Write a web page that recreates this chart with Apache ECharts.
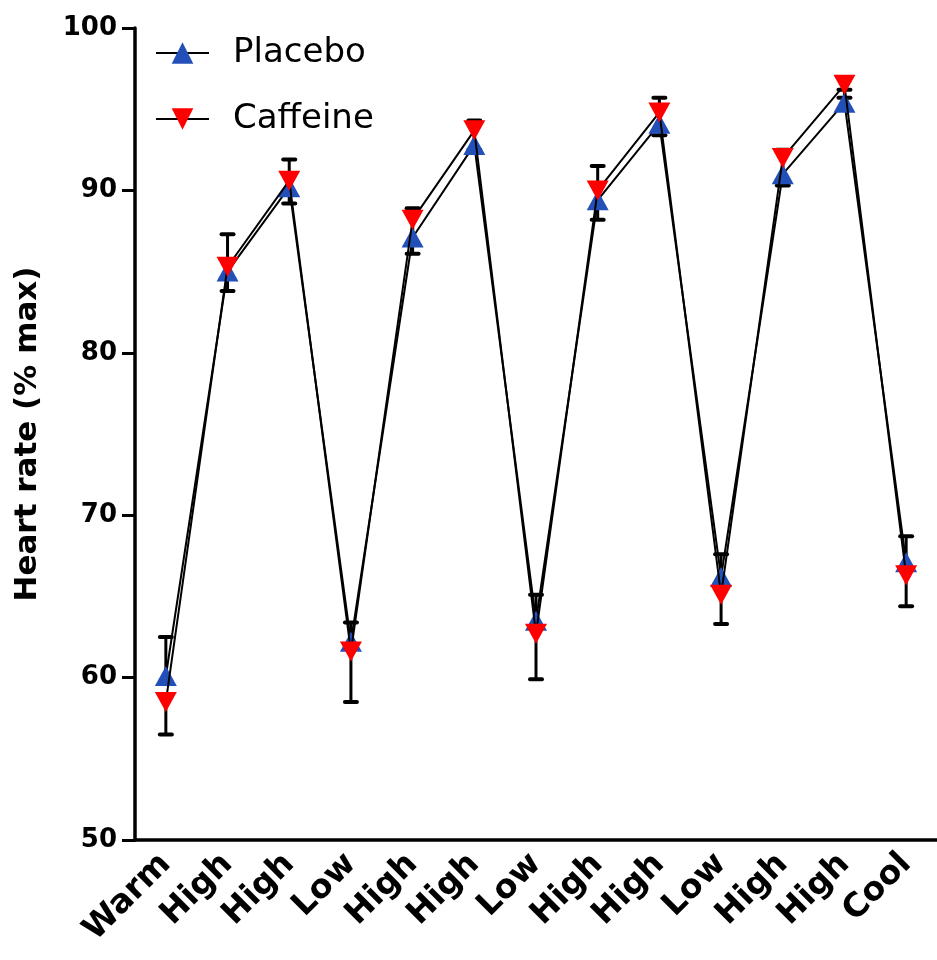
<!DOCTYPE html>
<html>
<head>
<meta charset="utf-8">
<script src="https://cdn.jsdelivr.net/npm/echarts@6/dist/echarts.min.js"></script>
<style>html,body{margin:0;padding:0;background:#fff}#c{width:937px;height:960px}</style>
</head>
<body>
<div id="c"></div>
<script>
const categories = ['Warm','High','High','Low','High','High','Low','High','High','Low','High','High','Cool'];
const placebo    = [60.1, 85.0, 90.2, 62.2, 87.1, 92.8, 63.5, 89.4, 94.1, 66.2, 91.0, 95.4, 67.1];
const placeboErr = [2.4, 2.3, 1.7, 1.2, 1.8, 1.5, 1.6, 2.1, 1.6, 1.4, 1.5, 0.8, 1.6];
const caffeine    = [58.5, 85.3, 90.6, 61.6, 88.2, 93.7, 62.7, 90.0, 94.8, 65.1, 92.0, 96.5, 66.3];
const caffeineErr = [2.0, 1.5, 1.4, 3.1, 2.1, 1.2, 2.8, 1.8, 1.4, 1.8, 1.7, 0.8, 1.9];
const yTicks = [50, 60, 70, 80, 90, 100];

const chart = echarts.init(document.getElementById('c'));
const ebData = [];
placebo.forEach((v, i) => ebData.push([i, v, v + placeboErr[i]]));
caffeine.forEach((v, i) => ebData.push([i, v, v - caffeineErr[i]]));

function renderErr(params, api) {
  const x = api.value(0);
  const p0 = api.coord([x, api.value(1)]);
  const p1 = api.coord([x, api.value(2)]);
  const hw = 6;
  return {
    type: 'group',
    children: [
      {type: 'line', shape: {x1: p0[0], y1: p0[1], x2: p1[0], y2: p1[1]}, style: {stroke: '#000', lineWidth: 3}},
      {type: 'line', shape: {x1: p1[0] - hw, y1: p1[1], x2: p1[0] + hw, y2: p1[1]}, style: {stroke: '#000', lineWidth: 4, lineCap: 'round'}}
    ]
  };
}

const font = '"DejaVu Sans", Verdana, sans-serif';
chart.setOption({
  animation: false,
  backgroundColor: '#fff',
  grid: {left: 135, right: -7, top: 28, bottom: 120, containLabel: false},
  legend: {
    orient: 'vertical', left: 150, top: 31, itemWidth: 53, itemHeight: 27, itemGap: 32,
    textStyle: {fontFamily: font, fontSize: 34, color: '#000', padding: [0, 0, 0, 19]},
    data: ['Placebo', 'Caffeine']
  },
  xAxis: {
    type: 'category', data: categories, boundaryGap: true,
    axisLine: {lineStyle: {color: '#000', width: 3.5}},
    axisTick: {alignWithLabel: true, length: 12, lineStyle: {color: '#000', width: 3}},
    axisLabel: {rotate: 45, margin: 19, color: '#000', fontFamily: font, fontWeight: 'bold', fontSize: 33, interval: 0}
  },
  yAxis: {
    type: 'value', min: 50, max: 100, interval: 10,
    name: 'Heart rate (% max)', nameLocation: 'middle', nameGap: 92,
    nameTextStyle: {fontFamily: font, fontWeight: 'bold', fontSize: 31, color: '#000'},
    axisLine: {show: true, lineStyle: {color: '#000', width: 3.5}},
    axisTick: {show: true, length: 13, lineStyle: {color: '#000', width: 3}},
    axisLabel: {margin: 18, color: '#000', fontFamily: font, fontWeight: 'bold', fontSize: 26,
      formatter: v => yTicks.includes(v) ? String(v) : ''},
    splitLine: {show: false}
  },
  series: [
    {type: 'custom', name: 'err', renderItem: renderErr, data: ebData, encode: {x: 0, y: [1, 2]}, z: 1, silent: true},
    {name: 'Placebo', type: 'line', data: placebo, symbol: 'triangle', symbolSize: [22, 20],
      lineStyle: {color: '#000', width: 2}, itemStyle: {color: '#2350b8'}, z: 3},
    {name: 'Caffeine', type: 'line', data: caffeine, symbol: 'triangle', symbolRotate: 180, symbolSize: [22, 20],
      lineStyle: {color: '#000', width: 2}, itemStyle: {color: '#ff0000'}, z: 4}
  ]
});
</script>
</body>
</html>
